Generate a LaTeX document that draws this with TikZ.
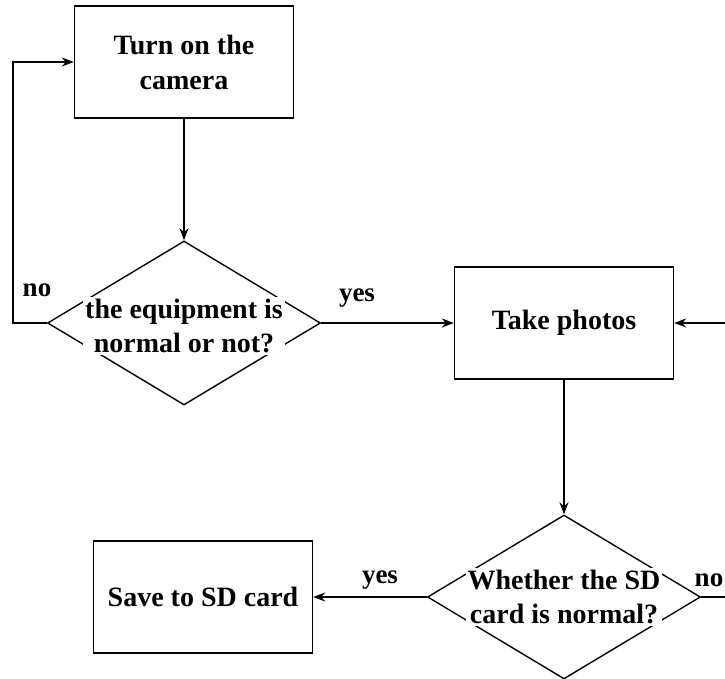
\documentclass[tikz,border=0pt]{standalone}
\usepackage{fontspec}
\setmainfont{Liberation Serif}
\usetikzlibrary{shapes.geometric,arrows.meta}
\begin{document}
\begin{tikzpicture}[x=0.5pt,y=-0.5pt,
	proc/.style={draw,line width=0.7pt,minimum width=109.5pt,minimum height=56pt,inner sep=0pt,align=center,font=\fontsize{14}{17.5}\selectfont\bfseries},
	dec/.style={draw,diamond,line width=0.7pt,minimum width=136.5pt,minimum height=82pt,inner sep=0pt},
	txt/.style={fill=white,inner sep=1pt,align=center,font=\fontsize{14}{17}\selectfont\bfseries},
	lbl/.style={font=\fontsize{13.5}{16}\selectfont\bfseries},
	arr/.style={line width=0.7pt,-{Stealth[length=6pt,width=4.5pt]}}]
	\useasboundingbox (0,0) rectangle (725,679);
	\clip (0,0) rectangle (725,679);
	% boxes
	\node[proc] (cam) at (184,62) {Turn on the\\camera};
	\node[proc] (take) at (564,323) {Take photos};
	\node[proc] (save) at (203,597) {Save to SD card};
	% decisions
	\node[dec] (chk) at (184,323) {};
	\node[txt] (chktxt) at (184,326) {the equipment is\\normal or not?};
	\node[dec] (sd) at (564,597) {};
	\node[txt] (sdtxt) at (564,597) {Whether the SD\\card is normal?};
	% free ends
	\coordinate (back) at (13,62);
	\coordinate (rt) at (740,597);
	% connectors
	\draw[arr] (cam) -- (chk);
	\draw[arr] (chk.west) -| (back) -- (cam.west);
	\draw[arr] (chk.east) -- (take.west);
	\draw[arr] (take) -- (sd);
	\draw[arr] (sd.west) -- (save.east);
	\draw[arr] (sd.east) -- (rt) |- (take.east);
	% labels
	\node[lbl] (noA) at (37,290) {no};
	\node[lbl] (yesA) at (357,298) {yes};
	\node[lbl] (yesB) at (380,580) {yes};
	\node[lbl] (noB) at (709,580) {no};
\end{tikzpicture}
\end{document}
